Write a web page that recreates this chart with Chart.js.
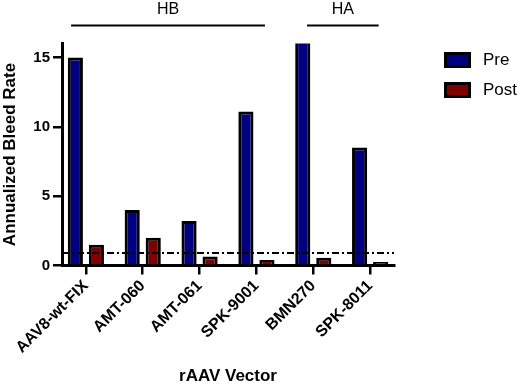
<!DOCTYPE html>
<html>
<head>
<meta charset="utf-8">
<script src="https://cdn.jsdelivr.net/npm/chart.js@4/dist/chart.umd.min.js"></script>
<style>
html,body{margin:0;padding:0;background:#fff;}
#wrap{width:520px;height:387px;position:relative;}
</style>
</head>
<body>
<div id="wrap"><canvas id="c" width="520" height="387"></canvas></div>
<script>
const categories = ["AAV8-wt-FIX", "AMT-060", "AMT-061", "SPK-9001", "BMN270", "SPK-8011"];
const preValues  = [15, 4, 3.2, 11.1, 16.5, 8.5];
const postValues = [1.5, 2, 0.65, 0.4, 0.55, 0.25];
const yTicks = [0, 5, 10, 15];
const threshold = 0.9;
const groups = [
  {label: "HB", from: -0.26, to: 3.15},
  {label: "HA", from: 3.89, to: 5.15}
];
const seriesNames = ["Pre", "Post"];
const seriesColors = ["#000080", "#800000"];

const FONT = "'Liberation Sans', Arial, sans-serif";

const extras = {
  id: 'extras',
  afterDatasetsDraw(chart) {
    const ctx = chart.ctx, y = chart.scales.y, a = chart.chartArea;
    ctx.save();
    ctx.strokeStyle = '#000';
    ctx.lineWidth = 2;
    ctx.setLineDash([7, 3, 2, 3]);
    const ty = Math.round(y.getPixelForValue(threshold));
    ctx.beginPath();
    ctx.moveTo(a.left, ty);
    ctx.lineTo(a.right, ty);
    ctx.stroke();
    ctx.restore();
  },
  afterDraw(chart) {
    const ctx = chart.ctx, x = chart.scales.x;
    ctx.save();
    groups.forEach(g => {
      const x1 = x.getPixelForValue(g.from), x2 = x.getPixelForValue(g.to);
      ctx.strokeStyle = '#000';
      ctx.lineWidth = 2;
      ctx.beginPath();
      ctx.moveTo(x1, 25.5);
      ctx.lineTo(x2, 25.5);
      ctx.stroke();
      ctx.fillStyle = '#000';
      ctx.font = "16px " + FONT;
      ctx.textAlign = 'center';
      ctx.textBaseline = 'middle';
      ctx.fillText(g.label, (x1 + x2) / 2, 10);
    });
    seriesNames.forEach((name, i) => {
      const by = 52 + i * 30;
      ctx.fillStyle = '#000';
      ctx.fillRect(444, by, 27, 16);
      ctx.fillStyle = seriesColors[i];
      ctx.fillRect(447, by + 3, 21, 10);
      ctx.fillStyle = '#000';
      ctx.font = "17px " + FONT;
      ctx.textAlign = 'left';
      ctx.textBaseline = 'middle';
      ctx.fillText(name, 483, by + 8);
    });
    ctx.restore();
  }
};

new Chart(document.getElementById('c'), {
  type: 'bar',
  data: {
    datasets: [
      {
        label: seriesNames[0],
        data: preValues.map((v, i) => ({x: i, y: v})),
        backgroundColor: seriesColors[0],
        borderColor: '#000',
        borderWidth: 3,
        categoryPercentage: 0.74,
        barPercentage: 0.72,
        clip: 0
      },
      {
        label: seriesNames[1],
        data: postValues.map((v, i) => ({x: i, y: v})),
        backgroundColor: seriesColors[1],
        borderColor: '#000',
        borderWidth: 3,
        categoryPercentage: 0.74,
        barPercentage: 0.72,
        clip: 0
      }
    ]
  },
  options: {
    responsive: false,
    animation: false,
    devicePixelRatio: 1,
    layout: {padding: {left: 0, top: 43.5, right: 126, bottom: 0}},
    plugins: {legend: {display: false}, tooltip: {enabled: false}},
    scales: {
      x: {
        type: 'linear',
        offset: false,
        min: -0.42,
        max: 5.42,
        afterBuildTicks(s) { s.ticks = categories.map((c, i) => ({value: i})); },
        afterFit(s) { s.height = 121.5; },
        grid: {drawOnChartArea: false, drawTicks: true, tickLength: 9, color: '#000', lineWidth: 2.5, offset: false},
        border: {display: true, color: '#000', width: 3},
        ticks: {
          autoSkip: false,
          minRotation: 45,
          maxRotation: 45,
          padding: 2,
          color: '#000',
          font: {family: FONT, size: 16, weight: 'bold'},
          callback: (v) => categories[v]
        },
        title: {
          display: true,
          text: 'rAAV Vector',
          color: '#000',
          font: {family: FONT, size: 17, weight: 'bold'},
          padding: {top: 0, bottom: 0}
        }
      },
      y: {
        min: 0,
        max: 16,
        afterBuildTicks(s) { s.ticks = yTicks.map(v => ({value: v})); },
        afterFit(s) { s.width = 62; },
        grid: {drawOnChartArea: false, drawTicks: true, tickLength: 9, color: '#000', lineWidth: 2.5},
        border: {display: true, color: '#000', width: 3},
        ticks: {
          padding: 3,
          color: '#000',
          font: {family: FONT, size: 15, weight: 'bold'}
        },
        title: {
          display: true,
          text: 'Annualized Bleed Rate',
          color: '#000',
          font: {family: FONT, size: 17, weight: 'bold'},
          padding: {top: 0, bottom: 0}
        }
      }
    }
  },
  plugins: [extras]
});
</script>
</body>
</html>
